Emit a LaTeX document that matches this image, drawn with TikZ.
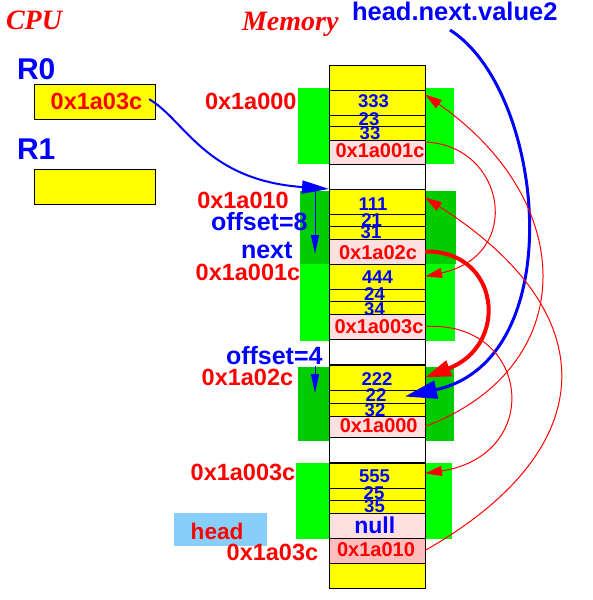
\documentclass[tikz,border=0pt]{standalone}
\usepackage{fontspec}
\setmainfont{Liberation Sans}
\newfontfamily\titlefont{Liberation Serif}
\usetikzlibrary{arrows.meta}
\definecolor{lgreen}{RGB}{0,255,0}
\definecolor{dgreen}{RGB}{0,204,0}
\definecolor{lpink}{RGB}{255,224,224}
\definecolor{dpink}{RGB}{255,190,190}
\definecolor{headblue}{RGB}{135,206,250}
\definecolor{myyellow}{RGB}{255,255,0}
\definecolor{myred}{RGB}{255,0,0}
\definecolor{myblue}{RGB}{0,0,255}
\begin{document}
\begin{tikzpicture}[x=1pt,y=-1pt,
  cell/.style={draw=black,line width=1pt,minimum width=96pt,inner sep=0pt,outer sep=0pt},
  regbox/.style={draw=black,line width=1pt,fill=myyellow,minimum width=120.6pt,minimum height=35pt,inner sep=0pt,outer sep=0pt},
  txt/.style={inner sep=0pt,outer sep=0pt,anchor=base},
  num/.style={txt,text=myblue,font=\fontsize{18.5}{20}\selectfont\bfseries},
  ptr/.style={txt,text=myred,font=\fontsize{20}{22}\selectfont\bfseries},
  addr/.style={txt,anchor=base west,text=myred,font=\fontsize{23.5}{26}\selectfont\bfseries},
  blbl/.style={txt,anchor=base west,text=myblue,font=\fontsize{25}{28}\selectfont\bfseries},
  reg/.style={txt,anchor=base west,text=myblue,font=\fontsize{30}{34}\selectfont\bfseries},
  ttl/.style={txt,anchor=base west,text=myred,font=\titlefont\fontsize{28}{32}\selectfont\bfseries\itshape},
  redarr/.style={draw=myred,line width=1pt,-{Triangle[length=17pt,width=10pt]}},
  redthick/.style={draw=myred,line width=4pt,-{Triangle[length=26pt,width=16pt]}},
  bluecurve/.style={draw=myblue,line width=2pt,-{Triangle[length=27pt,width=13pt]}},
  bluebig/.style={draw=myblue,line width=3pt,-{Triangle[length=32pt,width=18pt]}},
  bluev/.style={draw=myblue,line width=1pt,-{Triangle[length=19pt,width=8pt]}}
]
\useasboundingbox (0,0) rectangle (592,600);

% green bands
\fill[lgreen] (298,88) rectangle (454,164);
\fill[dgreen] (300,191) rectangle (456,264);
\fill[lgreen] (300,264) rectangle (455,341);
\fill[dgreen] (298,367) rectangle (454,441);
\fill[lgreen] (296,463) rectangle (452,539);
\fill[headblue] (174,512.7) rectangle (266.7,545.7);

% memory cells
\node[cell,fill=myyellow,minimum height=25pt] (ctop) at (377,77.5) {};
\node[cell,fill=myyellow,minimum height=25pt] (c333) at (377,102.5) {};
\node[cell,fill=myyellow,minimum height=11.5pt] (c23) at (377,120.75) {};
\node[cell,fill=myyellow,minimum height=13.5pt] (c33) at (377,133.25) {};
\node[cell,fill=lpink,minimum height=24pt] (p1c) at (377,152) {};
\node[cell,fill=white,minimum height=25pt] (w1) at (377,176.5) {};
\node[cell,fill=myyellow,minimum height=25pt] (c111) at (377,201.5) {};
\node[cell,fill=myyellow,minimum height=12.5pt] (c21) at (377,220.25) {};
\node[cell,fill=myyellow,minimum height=12.5pt] (c31) at (377,232.75) {};
\node[cell,fill=lpink,minimum height=25pt] (p2c) at (377,251.5) {};
\node[cell,fill=myyellow,minimum height=25pt] (c444) at (377,276.5) {};
\node[cell,fill=myyellow,minimum height=12.5pt] (c24) at (377,295.25) {};
\node[cell,fill=myyellow,minimum height=12.5pt] (c34) at (377,307.75) {};
\node[cell,fill=lpink,minimum height=25pt] (p3c) at (377,326.5) {};
\node[cell,fill=white,minimum height=26pt] (w2) at (377,352) {};
\node[cell,fill=myyellow,minimum height=25pt] (c222) at (377,377.5) {};
\node[cell,fill=myyellow,minimum height=13pt] (c22) at (377,396.5) {};
\node[cell,fill=myyellow,minimum height=13pt] (c32) at (377,409.5) {};
\node[cell,fill=lpink,minimum height=21pt] (p0) at (377,426.5) {};
\node[cell,fill=white,minimum height=26pt] (w3) at (377,450) {};
\node[cell,fill=myyellow,minimum height=25pt] (c555) at (377,475.5) {};
\node[cell,fill=myyellow,minimum height=12pt] (c25) at (377,494) {};
\node[cell,fill=myyellow,minimum height=13pt] (c35) at (377,506.5) {};
\node[cell,fill=lpink,minimum height=25pt] (pnull) at (377,525.5) {};
\node[cell,fill=dpink,minimum height=25pt] (phead) at (377,550.5) {};
\node[cell,fill=myyellow,minimum height=25pt] (cbot) at (377,575.5) {};
\draw[line width=2pt] (w2.south west) -- (w2.south east);
\draw[line width=2pt] (w3.south west) -- (w3.south east);

% memory texts
\node[num] (t333) at (373.5,107.3) {333};
\node[num] (t23) at (369,125) {23};
\node[num] (t33) at (370,139.3) {33};
\node[ptr] (tp1) at (380,157.7) {0x1a001c};
\node[num] (t111) at (373,210) {111};
\node[num] (t21) at (371.7,226.7) {21};
\node[num] (t31) at (371,238.3) {31};
\node[ptr] (tp2) at (378,259) {0x1a02c};
\node[num] (t444) at (377.5,283.3) {444};
\node[num] (t24) at (374.5,300) {24};
\node[num] (t34) at (374.5,315) {34};
\node[ptr] (tp3) at (379,333.3) {0x1a003c};
\node[num] (t222) at (377,385) {222};
\node[num] (t22) at (376,401.7) {22};
\node[num] (t32) at (375,416) {32};
\node[ptr] (tp0) at (378.7,432.7) {0x1a000};
\node[num] (t555) at (374.5,482.3) {555};
\node[num] (t25) at (374,499.3) {25};
\node[num] (t35) at (374.5,512.7) {35};
\node[txt,text=myblue,font=\fontsize{23}{26}\selectfont\bfseries] (tnull) at (374.7,533.3) {null};
\node[ptr] (tph) at (376,556) {0x1a010};

% left labels
\node[addr] (l0) at (205,109) {0x1a000};
\node[addr] (l10) at (197.3,208.3) {0x1a010};
\node[blbl] (off8) at (211,230) {offset=8};
\node[blbl] (nxt) at (241,258.3) {next};
\node[addr] (l1c) at (195.7,280) {0x1a001c};
\node[blbl] (off4) at (226,364) {offset=4};
\node[addr] (l2c) at (201.7,385.7) {0x1a02c};
\node[addr] (l3c) at (190.7,480) {0x1a003c};
\node[addr] (l3c2) at (226.7,560) {0x1a03c};
\node[txt,anchor=base west,text=myred,font=\fontsize{22.6}{25}\selectfont\bfseries] (headtxt) at (190.7,539.3) {head};

% titles and registers
\node[ttl] (cpu) at (6,29.3) {CPU};
\node[ttl] (mem) at (242,30) {Memory};
\node[blbl,font=\fontsize{25.5}{28}\selectfont\bfseries] (hnv) at (352,20) {head.next.value2};
\node[reg] (r0lbl) at (17,79.3) {R0};
\node[reg] (r1lbl) at (17,159.3) {R1};
\node[regbox] (r0) at (95,101.8) {};
\node[regbox] (r1) at (95,186.7) {};
\node[addr] (r0txt) at (50.7,109.3) {0x1a03c};

% blue connectors
\draw[bluecurve] ([xshift=7pt,yshift=2pt]r0txt.east) .. controls (185,120) and (205,180) .. (c111.north west);
\coordinate (o8a) at (315,190);
\coordinate (o8b) at (315,254);
\draw[bluev] (o8a) -- (o8b);
\coordinate (o4a) at (315,366);
\coordinate (o4b) at (315,393);
\draw[bluev] (o4a) -- (o4b);
\coordinate (hnvfoot) at (450,30);
\draw[bluebig] (hnvfoot) .. controls (545,90) and (572,360) .. ([xshift=28pt]c22.center);

% red connectors
\draw[redarr] ([yshift=10pt]p1c.east) .. controls (505,145) and (525,255) .. (c444.east);
\draw[redthick] (p2c.east) .. controls (500,250) and (510,345) .. (c222.east);
\draw[redarr] (p3c.east) .. controls (530,320) and (545,455) .. ([yshift=2pt]c555.east);
\draw[redarr] (p0.east) .. controls (580,368) and (580,203) .. ([yshift=8pt]c333.east);
\draw[redarr] (phead.east) .. controls (605,448) and (605,312) .. ([yshift=4pt]c111.east);
\end{tikzpicture}
\end{document}
